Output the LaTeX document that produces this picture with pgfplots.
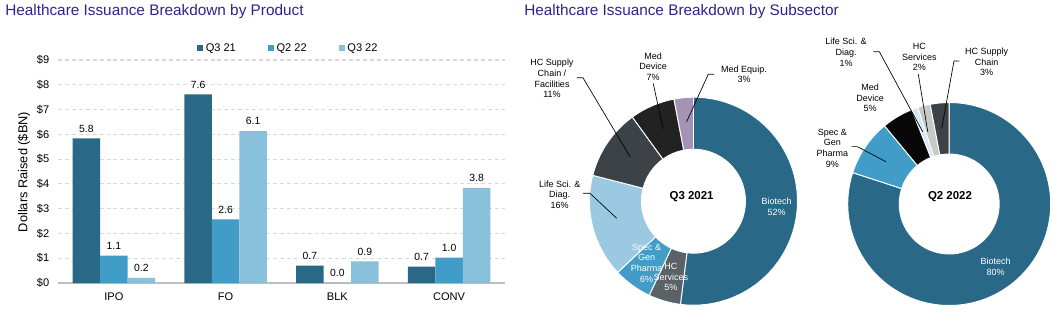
\documentclass[border=0pt]{standalone}
\usepackage{pgfplots}
\pgfplotsset{compat=1.18}
\usepackage{fontspec}
\setmainfont{Liberation Sans}
\definecolor{titlec}{RGB}{45,35,140}
\definecolor{cA}{RGB}{41,104,135}
\definecolor{cB}{RGB}{65,157,199}
\definecolor{cC}{RGB}{137,192,219}
\definecolor{hcserv}{RGB}{90,98,102}
\definecolor{lifesci}{RGB}{155,201,225}
\definecolor{supply}{RGB}{60,66,70}
\definecolor{meddev}{RGB}{34,34,34}
\definecolor{medequip}{RGB}{166,146,180}
\definecolor{lifesciB}{RGB}{210,232,246}
\definecolor{hcservB}{RGB}{200,200,200}
\definecolor{meddevB}{RGB}{8,8,8}
\definecolor{gridc}{RGB}{217,217,217}
\definecolor{axisc}{RGB}{191,191,191}
% donut slice: color, start %, end %, outer radius (pt), inner radius (pt)
\newcommand{\slice}[5]{\fill[#1, draw=white, line width=0.7pt]
 (axis cs:{#4*cos(90-3.6*#2)},{#4*sin(90-3.6*#2)})
 arc[start angle={90-3.6*#2}, end angle={90-3.6*#3}, radius=#4pt]
 -- (axis cs:{#5*cos(90-3.6*#3)},{#5*sin(90-3.6*#3)})
 arc[start angle={90-3.6*#3}, end angle={90-3.6*#2}, radius=#5pt] -- cycle;}
\newcommand{\dl}{\fontsize{6.75}{8}\selectfont}
\begin{document}
\begin{tikzpicture}
\useasboundingbox (0,0) rectangle (798pt,241.5pt);
\node[anchor=west, inner sep=0pt, text=titlec, font=\fontsize{11.5}{13.5}\selectfont] at (3.75pt,232.7pt) {Healthcare Issuance Breakdown by Product};
\node[anchor=west, inner sep=0pt, text=titlec, font=\fontsize{11.5}{13.5}\selectfont] at (393pt,232.7pt) {Healthcare Issuance Breakdown by Subsector};

\begin{axis}[
 at={(43.5pt,29.25pt)}, anchor=south west, scale only axis,
 width=335.25pt, height=167.25pt,
 xmin=-0.5, xmax=3.5, ymin=0, ymax=9,
 ybar=0pt, bar width=20.6pt,
 xtick={0,1,2,3}, xticklabels={IPO,FO,BLK,CONV},
 ytick={0,1,2,3,4,5,6,7,8,9},
 yticklabels={\$0,\$1,\$2,\$3,\$4,\$5,\$6,\$7,\$8,\$9},
 axis x line*=bottom, axis y line*=left,
 x axis line style={draw=axisc, line width=0.8pt, -},
 y axis line style={draw=none},
 major tick length=0pt,
 ymajorgrids, grid style={draw=gridc, line width=0.9pt, dash pattern=on 3pt off 2.2pt},
 tick label style={font=\fontsize{8.3}{10}\selectfont},
 yticklabel style={xshift=-3pt},
 xticklabel style={yshift=-4pt},
 ylabel={Dollars Raised (\$BN)},
 ylabel style={at={(axis description cs:-0.076,0.498)}, anchor=center, font=\fontsize{9.6}{11.5}\selectfont},
 nodes near coords={\pgfmathprintnumber[fixed,fixed zerofill,precision=1,assume math mode=true]{\pgfplotspointmeta}},
 every node near coord/.append style={font=\fontsize{7.8}{9}\selectfont, text=black, yshift=1pt},
 legend columns=3,
 legend style={at={(axis description cs:0.516,1.0525)}, anchor=center, draw=none, fill=none,
   font=\fontsize{8.3}{10}\selectfont, inner sep=0pt,
   /tikz/every even column/.append style={column sep=22pt}},
 legend image code/.code={\fill[#1] (0pt,-2.25pt) rectangle (4.5pt,2.25pt);},
]
\addplot[fill=cA, draw=none] coordinates {(0,5.84) (1,7.61) (2,0.70) (3,0.66)};
\addplot[fill=cB, draw=none] coordinates {(0,1.10) (1,2.57) (2,0.00) (3,1.02)};
\addplot[fill=cC, draw=none] coordinates {(0,0.21) (1,6.13) (2,0.87) (3,3.84)};
\legend{Q3 21, Q2 22, Q3 22}
\end{axis}

% Donut Q3 2021
\begin{axis}[
 at={(520.1pt,90.6pt)}, anchor=center, x=1pt, y=1pt,
 xmin=-110, xmax=110, ymin=-110, ymax=110,
 hide axis, clip=false,
]
\slice{cA}{0}{52}{78}{39}
\slice{hcserv}{52}{57}{78}{39}
\slice{cB}{57}{63}{78}{39}
\slice{lifesci}{63}{79}{78}{39}
\slice{supply}{79}{90}{78}{39}
\slice{meddev}{90}{97}{78}{39}
\slice{medequip}{97}{100}{78}{39}
\node[font=\fontsize{8.6}{10}\selectfont\bfseries] at (axis cs:-1.4,3.4) {Q3 2021};
\node[font=\dl, align=center, text=white] at (axis cs:62.4,-4.1) {Biotech\\52\%};
\node[font=\dl, align=center, text=white] at (axis cs:-35.1,-46.4) {Spec \&\\Gen\\Pharma\\6\%};
\node[font=\dl, align=center, text=white] at (axis cs:-16.9,-56.9) {HC\\Services\\5\%};
\node[font=\dl, align=center] at (axis cs:-106.1,92.0) {HC Supply\\Chain /\\Facilities\\11\%};
\draw[line width=0.5pt] (axis cs:-87.4,92.6) -- (axis cs:-82.9,92.6) -- (axis cs:-47.6,33.4);
\node[font=\dl, align=center] at (axis cs:-30.2,100.9) {Med\\Device\\7\%};
\draw[line width=0.5pt] (axis cs:-30.2,88.4) -- (axis cs:-22.7,53.9);
\node[font=\dl, align=center] at (axis cs:37.9,95.2) {Med Equip.\\3\%};
\draw[line width=0.5pt] (axis cs:15.4,95.2) -- (axis cs:11.1,95.2) -- (axis cs:-5.1,59.6);
\node[font=\dl, align=center] at (axis cs:-100.3,5.0) {Life Sci. \&\\Diag.\\16\%};
\draw[line width=0.5pt] (axis cs:-82.7,5.9) -- (axis cs:-77.6,5.9) -- (axis cs:-57.6,-12.8);
\end{axis}

% Donut Q2 2022
\begin{axis}[
 at={(711.9pt,88.5pt)}, anchor=center, x=1pt, y=1pt,
 xmin=-110, xmax=110, ymin=-110, ymax=110,
 hide axis, clip=false,
]
\slice{cA}{0}{80}{76.1}{37.5}
\slice{cB}{80}{89}{76.1}{37.5}
\slice{meddevB}{89}{94}{76.1}{37.5}
\slice{lifesciB}{94}{95}{76.1}{37.5}
\slice{hcservB}{95}{97}{76.1}{37.5}
\slice{supply}{97}{100}{76.1}{37.5}
\node[font=\fontsize{8.6}{10}\selectfont\bfseries] at (axis cs:0.6,5.5) {Q2 2022};
\node[font=\dl, align=center, text=white] at (axis cs:34.9,-47.0) {Biotech\\80\%};
\node[font=\dl, align=center] at (axis cs:-77.4,113.9) {Life Sci. \&\\Diag.\\1\%};
\draw[line width=0.5pt] (axis cs:-56.9,114.2) -- (axis cs:-52.4,114.2) -- (axis cs:-19.9,54.2);
\node[font=\dl, align=center] at (axis cs:-22.4,110.1) {HC\\Services\\2\%};
\draw[line width=0.5pt] (axis cs:-23.2,97.5) -- (axis cs:-16.1,54.2);
\node[font=\dl, align=center] at (axis cs:28.1,106.5) {HC Supply\\Chain\\3\%};
\draw[line width=0.5pt] (axis cs:7.6,107.3) -- (axis cs:3.6,107.3) -- (axis cs:-5.6,56.8);
\node[font=\dl, align=center] at (axis cs:-59.4,79.5) {Med\\Device\\5\%};
\node[font=\dl, align=center] at (axis cs:-87.7,42.0) {Spec \&\\Gen\\Pharma\\9\%};
\draw[line width=0.5pt] (axis cs:-73.1,43.0) -- (axis cs:-68.9,43.0) -- (axis cs:-47.4,31.7);
\end{axis}
\end{tikzpicture}
\end{document}
